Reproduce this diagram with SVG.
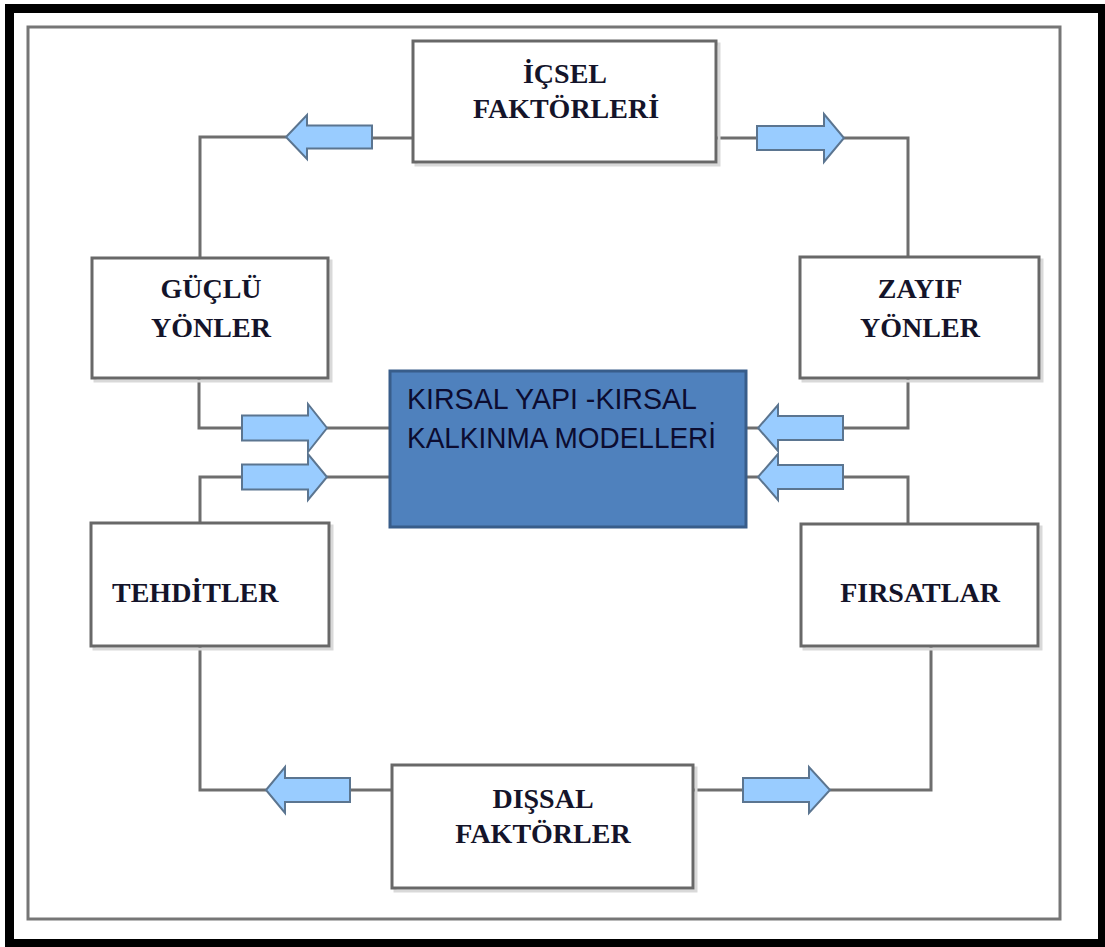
<svg xmlns="http://www.w3.org/2000/svg" width="1105" height="947" viewBox="0 0 1105 947">
<defs>
<style>
.box{fill:#ffffff;stroke:#686868;stroke-width:3}
.shadow{fill:none;stroke:#d9d9d9;stroke-width:3}
.conn{fill:none;stroke:#6e6e6e;stroke-width:3}
.arrow{fill:#99ccff;stroke:#5b7590;stroke-width:2;stroke-linejoin:miter}
.lbl{font-family:"Liberation Serif","Times New Roman",serif;font-weight:bold;font-size:28px;fill:#14142a;text-anchor:middle}
.ctr{font-family:"Liberation Sans",Arial,sans-serif;font-size:30px;fill:#0c0c30}
</style>
</defs>
<rect x="0" y="0" width="1105" height="947" fill="#ffffff"/>
<!-- outer black frame -->
<rect x="9.5" y="8.5" width="1093" height="935" fill="none" stroke="#000000" stroke-width="9"/>
<!-- inner frame -->
<rect x="28" y="27" width="1032" height="892" fill="none" stroke="#767676" stroke-width="3"/>

<g id="connectors">
<polyline class="conn" points="413,138 372,138"/>
<polyline class="conn" points="286,137 200,137 200,258"/>
<polyline class="conn" points="716,138 757,138"/>
<polyline class="conn" points="844,138 908,138 908,257"/>
<polyline class="conn" points="199,378 199,428 242,428"/>
<polyline class="conn" points="327,428 390,428"/>
<polyline class="conn" points="200,523 200,477 242,477"/>
<polyline class="conn" points="327,477 390,477"/>
<polyline class="conn" points="908,378 908,428 843,428"/>
<polyline class="conn" points="746,428 758,428"/>
<polyline class="conn" points="908,524 908,477 843,477"/>
<polyline class="conn" points="746,477 758,477"/>
<polyline class="conn" points="200,646 200,790 266,790"/>
<polyline class="conn" points="350,790 392,790"/>
<polyline class="conn" points="693,790 743,790"/>
<polyline class="conn" points="830,790 931,790 931,646"/>
<!-- block arrows -->
<path class="arrow" d="M372,125.5 H307 V115 L286,137 L307,159 V148.5 H372 Z"/>
<path class="arrow" d="M757,126 H824 V114 L844,138 L824,162 V150 H757 Z"/>
<path class="arrow" d="M242,415.5 H308 V404 L327,428 L308,452 V440.5 H242 Z"/>
<path class="arrow" d="M242,464.5 H308 V454 L327,477 L308,500 V489.5 H242 Z"/>
<path class="arrow" d="M843,416 H778 V405 L758,428 L778,451 V440 H843 Z"/>
<path class="arrow" d="M843,465 H778 V454 L758,477 L778,500 V489 H843 Z"/>
<path class="arrow" d="M350,778 H285 V767 L266,790 L285,813 V802 H350 Z"/>
<path class="arrow" d="M743,778 H809 V767 L830,790 L809,813 V802 H743 Z"/>
</g>

<g id="icsel">
<rect class="shadow" x="416" y="44" width="303" height="121"/>
<rect class="box" x="413" y="41" width="303" height="121"/>
<text class="lbl" x="565" y="83">İÇSEL</text>
<text class="lbl" x="566" y="118">FAKTÖRLERİ</text>
</g>

<g id="guclu">
<rect class="shadow" x="95" y="261" width="236" height="120"/>
<rect class="box" x="92" y="258" width="236" height="120"/>
<text class="lbl" x="211" y="298">GÜÇLÜ</text>
<text class="lbl" x="211" y="337">YÖNLER</text>
</g>

<g id="zayif">
<rect class="shadow" x="803" y="260" width="239" height="121"/>
<rect class="box" x="800" y="257" width="239" height="121"/>
<text class="lbl" x="920" y="298">ZAYIF</text>
<text class="lbl" x="920" y="337">YÖNLER</text>
</g>

<g id="merkez">
<rect x="390" y="371" width="356" height="156" fill="#4f81bd" stroke="#385d8a" stroke-width="3"/>
<text class="ctr" x="407" y="409" textLength="290" lengthAdjust="spacingAndGlyphs">KIRSAL YAPI -KIRSAL</text>
<text class="ctr" x="407" y="448" textLength="309" lengthAdjust="spacingAndGlyphs">KALKINMA MODELLERİ</text>
</g>

<g id="tehditler">
<rect class="shadow" x="94" y="526" width="238" height="123"/>
<rect class="box" x="91" y="523" width="238" height="123"/>
<text class="lbl" x="112" y="602" style="text-anchor:start">TEHDİTLER</text>
</g>

<g id="firsatlar">
<rect class="shadow" x="804" y="527" width="237" height="122"/>
<rect class="box" x="801" y="524" width="237" height="122"/>
<text class="lbl" x="920" y="602">FIRSATLAR</text>
</g>

<g id="dissal">
<rect class="shadow" x="395" y="768" width="301" height="123"/>
<rect class="box" x="392" y="765" width="301" height="123"/>
<text class="lbl" x="543" y="808">DIŞSAL</text>
<text class="lbl" x="543" y="843">FAKTÖRLER</text>
</g>
</svg>
